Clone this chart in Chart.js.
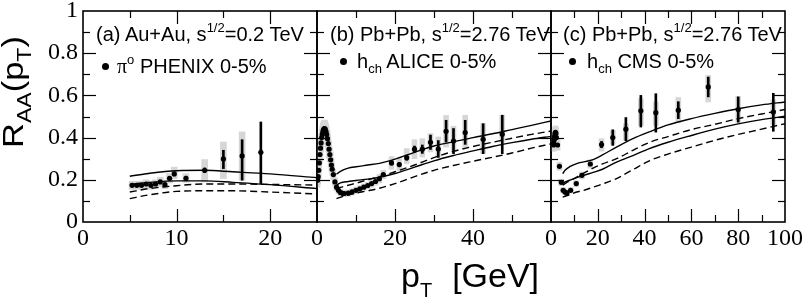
<!DOCTYPE html>
<html>
<head>
<meta charset="utf-8">
<script src="https://cdn.jsdelivr.net/npm/chart.js@4.4.1/dist/chart.umd.min.js"></script>
<style>
    html, body { margin: 0; padding: 0; background: #fff; }
    #wrap { position: relative; width: 805px; height: 300px; overflow: hidden; }
    #wrap canvas { position: absolute; left: 0; top: 0; }
    .lbl { position: absolute; font-family: "Liberation Sans", Arial, sans-serif; font-size: 20px; line-height: 20px; white-space: nowrap; color: #000; }
    .sup { font-size: 13px; position: relative; top: -9px; }
    .sub { font-size: 13px; position: relative; top: 5px; }
    .serif { font-family: "Liberation Serif", "Times New Roman", serif; }
    .dot { position: absolute; width: 7px; height: 7px; border-radius: 50%; background: #000; }
    .xtitle { position: absolute; left: 401px; top: 258px; font-family: "Liberation Sans", Arial, sans-serif; font-size: 34px; line-height: 34px; white-space: nowrap; }
    .xtitle .s { font-size: 20px; position: relative; top: 10px; }
    .ytitle { position: absolute; left: -67px; top: 72px; width: 160px; height: 40px; text-align: center; font-family: "Liberation Sans", Arial, sans-serif; font-size: 30px; line-height: 40px; white-space: nowrap; transform: rotate(-90deg) scaleX(1.15); }
    .ytitle .s { font-size: 20px; position: relative; top: 8px; }
</style>
</head>
<body>
<div id="wrap">
    <canvas id="panelA" width="805" height="300"></canvas>
    <canvas id="panelB" width="805" height="300"></canvas>
    <canvas id="panelC" width="805" height="300"></canvas>

    <div class="ytitle">R<span class="s">AA</span>(p<span class="s">T</span>)</div>
    <div class="xtitle">p<span class="s">T</span><span style="margin-left:20px">[GeV]</span></div>

    <div class="lbl" style="left:96px; top:24px">(a) Au+Au, s<span class="sup">1/2</span>=0.2 TeV</div>
    <div class="dot" style="left:102px; top:63px"></div>
    <div class="lbl" style="left:117px; top:56px"><span class="serif">π</span><span class="sup">o</span> PHENIX 0-5%</div>

    <div class="lbl" style="left:330px; top:24px">(b) Pb+Pb, s<span class="sup">1/2</span>=2.76 TeV</div>
    <div class="dot" style="left:340px; top:58px"></div>
    <div class="lbl" style="left:357px; top:51px">h<span class="sub">ch</span> ALICE 0-5%</div>

    <div class="lbl" style="left:563px; top:24px">(c) Pb+Pb, s<span class="sup">1/2</span>=2.76 TeV</div>
    <div class="dot" style="left:569px; top:58px"></div>
    <div class="lbl" style="left:587px; top:51px">h<span class="sub">ch</span> CMS 0-5%</div>
</div>

<script>
// (a) PHENIX pi0, Au+Au 0.2 TeV
const aX = [5.25, 5.75, 6.25, 6.75, 7.25, 7.75, 8.25, 8.75, 9.25, 9.75, 11, 13, 15, 17, 19];
const aY = [0.174, 0.174, 0.174, 0.180, 0.174, 0.180, 0.190, 0.177, 0.207, 0.228, 0.207, 0.245, 0.299, 0.313, 0.330];
const aStatLo = [0.170, 0.170, 0.170, 0.175, 0.169, 0.174, 0.184, 0.170, 0.199, 0.219, 0.197, 0.234, 0.253, 0.198, 0.182];
const aStatHi = [0.178, 0.178, 0.178, 0.185, 0.179, 0.186, 0.196, 0.184, 0.215, 0.237, 0.217, 0.256, 0.340, 0.390, 0.474];
const aSysLo = [0.155, 0.155, 0.155, 0.160, 0.155, 0.160, 0.168, 0.158, 0.185, 0.205, 0.188, 0.190, 0.206, 0.198, 0.330];
const aSysHi = [0.193, 0.193, 0.193, 0.200, 0.193, 0.200, 0.212, 0.196, 0.230, 0.260, 0.229, 0.296, 0.379, 0.427, 0.330];
const aCurveX = [5, 7, 10, 13, 16, 20, 25];
const aSolidHi = [0.217, 0.230, 0.243, 0.245, 0.238, 0.228, 0.210];
const aSolidLo = [0.178, 0.187, 0.195, 0.195, 0.188, 0.177, 0.158];
const aDashHi = [0.142, 0.158, 0.172, 0.180, 0.180, 0.178, 0.175];
const aDashLo = [0.111, 0.128, 0.145, 0.148, 0.148, 0.142, 0.133];

// (b) ALICE charged hadrons, Pb+Pb 2.76 TeV
const bX = [0.15, 0.3, 0.45, 0.6, 0.75, 0.9, 1.05, 1.2, 1.35, 1.5, 1.65, 1.8, 1.95, 2.1, 2.3, 2.5, 2.7, 2.9, 3.1, 3.3,
    3.5, 3.7, 3.9, 4.2, 4.6, 5.0, 5.5, 6.0, 6.5, 7.0, 8.0, 9.0, 10, 11, 12, 13, 14, 15, 16, 17,
    19.1, 21.1, 23, 25, 27, 29.1, 31.1, 33.1, 35, 38, 42.6, 47.5];
const bY = [0.198, 0.215, 0.245, 0.280, 0.320, 0.350, 0.375, 0.400, 0.415, 0.428, 0.437, 0.442, 0.443, 0.440, 0.430, 0.415, 0.395, 0.372, 0.345, 0.320,
    0.295, 0.270, 0.250, 0.225, 0.190, 0.165, 0.150, 0.140, 0.136, 0.135, 0.137, 0.143, 0.150, 0.157, 0.165, 0.173, 0.182, 0.192, 0.205, 0.225,
    0.280, 0.272, 0.305, 0.345, 0.345, 0.378, 0.346, 0.430, 0.384, 0.424, 0.392, 0.416];
const bStatLo = [0.198, 0.215, 0.245, 0.280, 0.320, 0.350, 0.375, 0.400, 0.415, 0.428, 0.437, 0.442, 0.443, 0.440, 0.430, 0.415, 0.395, 0.372, 0.345, 0.320,
    0.295, 0.270, 0.250, 0.225, 0.190, 0.165, 0.150, 0.140, 0.136, 0.135, 0.137, 0.143, 0.150, 0.157, 0.165, 0.173, 0.182, 0.192, 0.205, 0.225,
    0.270, 0.262, 0.293, 0.330, 0.325, 0.344, 0.306, 0.379, 0.324, 0.368, 0.324, 0.324];
const bStatHi = [0.198, 0.215, 0.245, 0.280, 0.320, 0.350, 0.375, 0.400, 0.415, 0.428, 0.437, 0.442, 0.443, 0.440, 0.430, 0.415, 0.395, 0.372, 0.345, 0.320,
    0.295, 0.270, 0.250, 0.225, 0.190, 0.165, 0.150, 0.140, 0.136, 0.135, 0.137, 0.143, 0.150, 0.157, 0.165, 0.173, 0.182, 0.192, 0.205, 0.225,
    0.290, 0.282, 0.317, 0.360, 0.365, 0.412, 0.386, 0.482, 0.443, 0.482, 0.466, 0.506];
const bSysLo = [0.165, 0.180, 0.205, 0.240, 0.280, 0.310, 0.335, 0.360, 0.375, 0.388, 0.397, 0.402, 0.403, 0.400, 0.390, 0.375, 0.355, 0.332, 0.305, 0.285,
    0.260, 0.240, 0.220, 0.200, 0.170, 0.148, 0.135, 0.125, 0.121, 0.120, 0.122, 0.128, 0.135, 0.142, 0.150, 0.158, 0.165, 0.175, 0.185, 0.205,
    0.250, 0.245, 0.277, 0.300, 0.308, 0.332, 0.308, 0.355, 0.340, 0.355, 0.324, 0.379];
const bSysHi = [0.230, 0.250, 0.285, 0.320, 0.360, 0.390, 0.415, 0.440, 0.455, 0.468, 0.477, 0.482, 0.483, 0.480, 0.470, 0.455, 0.435, 0.412, 0.385, 0.355,
    0.330, 0.300, 0.280, 0.250, 0.210, 0.182, 0.165, 0.155, 0.151, 0.150, 0.152, 0.158, 0.165, 0.172, 0.180, 0.188, 0.199, 0.209, 0.225, 0.245,
    0.310, 0.300, 0.348, 0.390, 0.395, 0.419, 0.403, 0.505, 0.454, 0.506, 0.466, 0.506];
const bCurveX = [5, 6, 8, 10, 13, 16, 20, 25, 30, 35, 40, 45, 50, 55, 60];
const bSolidHi = [0.226, 0.240, 0.255, 0.262, 0.270, 0.278, 0.298, 0.330, 0.360, 0.380, 0.400, 0.418, 0.438, 0.458, 0.479];
const bSolidLo = [0.175, 0.185, 0.192, 0.197, 0.203, 0.212, 0.230, 0.260, 0.290, 0.315, 0.337, 0.358, 0.376, 0.392, 0.406];
const bDashHi = [0.158, 0.164, 0.174, 0.184, 0.200, 0.215, 0.238, 0.270, 0.305, 0.335, 0.358, 0.378, 0.397, 0.415, 0.431];
const bDashLo = [0.111, 0.117, 0.128, 0.137, 0.148, 0.160, 0.182, 0.215, 0.245, 0.268, 0.288, 0.307, 0.327, 0.350, 0.370];

// (c) CMS charged hadrons, Pb+Pb 2.76 TeV
const cX = [1.05, 1.15, 1.3, 1.5, 1.7, 1.9, 2.1, 2.3, 2.8, 3.6, 4.4, 5.2, 6.0, 6.8, 8.4, 10.8, 13.2, 16.8,
    21.6, 26.4, 32, 38.4, 44.8, 54.4, 67.2, 80, 95];
const cY = [0.365, 0.372, 0.388, 0.405, 0.418, 0.425, 0.420, 0.400, 0.365, 0.264, 0.188, 0.150, 0.142, 0.138, 0.150, 0.182, 0.221, 0.275,
    0.367, 0.400, 0.440, 0.527, 0.518, 0.530, 0.640, 0.533, 0.521];
const cStatLo = [0.365, 0.372, 0.388, 0.405, 0.418, 0.425, 0.420, 0.400, 0.365, 0.264, 0.188, 0.150, 0.142, 0.138, 0.150, 0.182, 0.221, 0.275,
    0.352, 0.363, 0.385, 0.450, 0.426, 0.490, 0.593, 0.473, 0.430];
const cStatHi = [0.365, 0.372, 0.388, 0.405, 0.418, 0.425, 0.420, 0.400, 0.365, 0.264, 0.188, 0.150, 0.142, 0.138, 0.150, 0.182, 0.221, 0.275,
    0.382, 0.437, 0.495, 0.600, 0.608, 0.570, 0.687, 0.593, 0.610];
const cSysLo = [0.335, 0.342, 0.358, 0.375, 0.388, 0.395, 0.390, 0.370, 0.340, 0.245, 0.173, 0.137, 0.130, 0.126, 0.137, 0.168, 0.205, 0.255,
    0.336, 0.368, 0.387, 0.458, 0.458, 0.470, 0.569, 0.474, 0.460];
const cSysHi = [0.395, 0.402, 0.418, 0.435, 0.448, 0.455, 0.450, 0.430, 0.390, 0.283, 0.203, 0.163, 0.154, 0.150, 0.163, 0.196, 0.237, 0.295,
    0.395, 0.434, 0.466, 0.585, 0.569, 0.590, 0.695, 0.595, 0.580];
const cCurveX = [5, 6, 8, 11, 14, 18, 22, 28, 35, 42, 50, 60, 70, 80, 90, 100];
const cSolidHi = [0.229, 0.245, 0.262, 0.277, 0.285, 0.296, 0.318, 0.355, 0.395, 0.427, 0.460, 0.490, 0.515, 0.537, 0.555, 0.569];
const cSolidLo = [0.182, 0.190, 0.198, 0.210, 0.221, 0.235, 0.250, 0.284, 0.315, 0.348, 0.378, 0.410, 0.440, 0.465, 0.485, 0.501];
const cDashHi = [0.175, 0.182, 0.195, 0.213, 0.232, 0.255, 0.275, 0.300, 0.340, 0.377, 0.405, 0.438, 0.463, 0.490, 0.512, 0.533];
const cDashLo = [0.118, 0.122, 0.130, 0.142, 0.150, 0.165, 0.180, 0.206, 0.248, 0.290, 0.322, 0.355, 0.387, 0.415, 0.440, 0.466];

const pairs = (xs, ys) => xs.map((x, i) => ({ x, y: ys[i] }));
const ranges = (xs, lo, hi) => xs.map((x, i) => ({ x, y: [lo[i], hi[i]] }));

// box frame with inward ticks on all four sides
const frameTicks = {
    id: 'frameTicks',
    afterDraw(chart, args, opts) {
        const { ctx, chartArea: a, scales: { x, y } } = chart;
        ctx.save();
        ctx.strokeStyle = '#000';
        ctx.lineWidth = 1.2;
        const seg = (x1, y1, x2, y2) => { ctx.beginPath(); ctx.moveTo(x1, y1); ctx.lineTo(x2, y2); ctx.stroke(); };
        const isMajor = (v, major) => Math.abs(v / major - Math.round(v / major)) < 1e-6;

        let n = Math.round((x.max - x.min) / opts.xMinor);
        for (let i = 1; i < n; i++) {
            const v = x.min + i * opts.xMinor;
            const px = Math.round(x.getPixelForValue(v)) + 0.5;
            const len = isMajor(v, opts.xMajor) ? 13 : 7;
            seg(px, a.bottom, px, a.bottom - len);
            seg(px, a.top, px, a.top + len);
        }
        n = Math.round((y.max - y.min) / 0.1);
        for (let i = 1; i < n; i++) {
            const v = y.min + i * 0.1;
            const py = Math.round(y.getPixelForValue(v)) + 0.5;
            const len = isMajor(v, 0.2) ? 13 : 7;
            seg(a.left, py, a.left + len, py);
            seg(a.right, py, a.right - len, py);
        }
        ctx.lineWidth = 1.6;
        ctx.strokeRect(a.left, a.top, a.right - a.left, a.bottom - a.top);
        ctx.restore();
    },
};

function makePanel(id, o) {
    const line = (ys, dashed) => ({
        type: 'line',
        data: pairs(o.curveX, ys),
        borderColor: '#000',
        borderWidth: 1.4,
        borderDash: dashed ? [7, 4] : [],
        pointRadius: 0,
        fill: false,
        cubicInterpolationMode: 'monotone',
        order: 3,
    });

    new Chart(document.getElementById(id), {
        type: 'scatter',
        data: {
            datasets: [
                {
                    type: 'bar',
                    data: ranges(o.x, o.sysLo, o.sysHi),
                    backgroundColor: '#d6d6d6',
                    barThickness: o.boxWidth,
                    grouped: false,
                    order: 4,
                },
                line(o.solidHi, false),
                line(o.solidLo, false),
                line(o.dashHi, true),
                line(o.dashLo, true),
                {
                    type: 'bar',
                    data: ranges(o.x, o.statLo, o.statHi),
                    backgroundColor: '#000',
                    barThickness: 2,
                    grouped: false,
                    order: 2,
                },
                {
                    type: 'scatter',
                    data: pairs(o.x, o.y),
                    pointRadius: 2.6,
                    backgroundColor: '#000',
                    borderWidth: 0,
                    order: 1,
                },
            ],
        },
        options: {
            responsive: false,
            animation: false,
            devicePixelRatio: 1,
            layout: { padding: { left: o.padLeft, right: o.padRight, top: 11, bottom: 48 } },
            plugins: {
                legend: { display: false },
                tooltip: { enabled: false },
                frameTicks: { xMajor: o.xStep, xMinor: o.xMinor },
            },
            scales: {
                x: {
                    type: 'linear',
                    min: 0,
                    max: o.xMax,
                    offset: false,
                    grid: { display: false, drawTicks: false, offset: false },
                    border: { display: false },
                    ticks: {
                        stepSize: o.xStep,
                        includeBounds: false,
                        autoSkip: false,
                        maxRotation: 0,
                        padding: 2,
                        color: '#000',
                        font: { family: 'Liberation Serif', size: 24 },
                    },
                    afterBuildTicks: (s) => { s.ticks = s.ticks.filter((t) => t.value < o.xCut); },
                    afterFit: (s) => { s.height = 30; s.paddingLeft = 0; s.paddingRight = 0; },
                },
                y: {
                    min: 0,
                    max: 1,
                    display: o.showY,
                    grid: { display: false, drawTicks: false },
                    border: { display: false },
                    ticks: {
                        stepSize: 0.2,
                        padding: 5,
                        color: '#000',
                        font: { family: 'Liberation Serif', size: 24 },
                        callback: (v) => String(Number(v.toFixed(1))),
                    },
                    afterFit: (s) => { s.width = o.showY ? 83 : 0; s.paddingTop = 0; s.paddingBottom = 0; },
                },
            },
        },
        plugins: [frameTicks],
    });
}

makePanel('panelA', {
    padLeft: 0, padRight: 488, showY: true, xMax: 25, xStep: 10, xMinor: 5, xCut: 26, boxWidth: 6,
    x: aX, y: aY, statLo: aStatLo, statHi: aStatHi, sysLo: aSysLo, sysHi: aSysHi,
    curveX: aCurveX, solidHi: aSolidHi, solidLo: aSolidLo, dashHi: aDashHi, dashLo: aDashLo,
});
makePanel('panelB', {
    padLeft: 317, padRight: 254, showY: false, xMax: 60, xStep: 20, xMinor: 10, xCut: 59, boxWidth: 5,
    x: bX, y: bY, statLo: bStatLo, statHi: bStatHi, sysLo: bSysLo, sysHi: bSysHi,
    curveX: bCurveX, solidHi: bSolidHi, solidLo: bSolidLo, dashHi: bDashHi, dashLo: bDashLo,
});
makePanel('panelC', {
    padLeft: 551, padRight: 20, showY: false, xMax: 100, xStep: 20, xMinor: 10, xCut: 101, boxWidth: 5,
    x: cX, y: cY, statLo: cStatLo, statHi: cStatHi, sysLo: cSysLo, sysHi: cSysHi,
    curveX: cCurveX, solidHi: cSolidHi, solidLo: cSolidLo, dashHi: cDashHi, dashLo: cDashLo,
});
</script>
</body>
</html>
